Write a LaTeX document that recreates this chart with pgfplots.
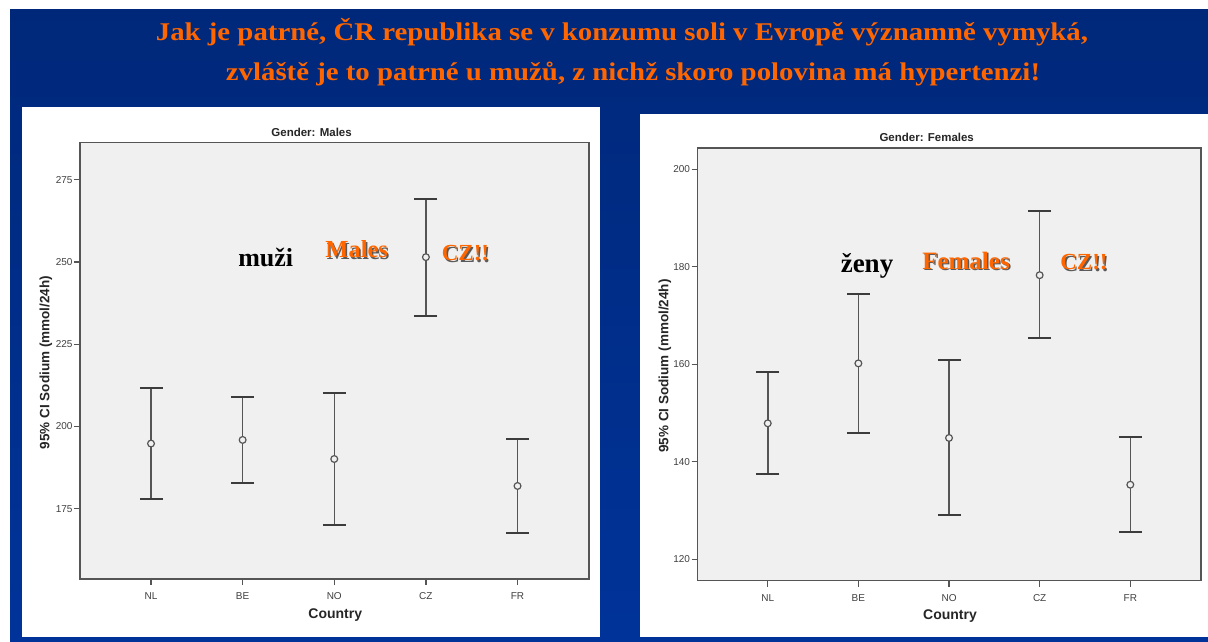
\documentclass[border=0pt]{standalone}
\usepackage{fontspec}
\setmainfont{Liberation Serif}
\newfontfamily\arialfont{Liberation Sans}
\usepackage{pgfplots}
\usepackage{pgfplotstable}
\pgfplotsset{compat=1.18}
\definecolor{bgtop}{RGB}{0,40,122}
\definecolor{bgbot}{RGB}{0,51,153}
\definecolor{plotbg}{RGB}{240,240,240}
\definecolor{axgray}{RGB}{85,85,85}
\definecolor{capgray}{RGB}{60,60,60}
\definecolor{ttorange}{RGB}{255,102,0}
\definecolor{shadowgray}{RGB}{90,90,90}

\pgfplotstableread{
x m up lo
0 194.8 211.7 177.9
1 195.9 209.1 182.9
2 190.1 210.3 169.9
3 251.5 269.2 233.6
4 181.9 196.2 167.7
}\males
\pgfplotstableread{
x m up lo
0 147.9 158.4 137.4
1 160.2 174.5 146.0
2 144.9 160.9 129.1
3 178.3 191.5 165.4
4 135.3 145.1 125.6
}\females

\pgfplotsset{spss/.style={
  scale only axis,
  axis background/.style={fill=plotbg},
  axis line style={axgray, line width=1.4pt},
  xtick={0,1,2,3,4}, xticklabels={NL,BE,NO,CZ,FR},
  tick align=outside, major tick length=6pt,
  tick style={axgray, line width=1.2pt},
  tick pos=left,
  ticklabel style={font=\arialfont\fontsize{10}{12}\selectfont, text=black!75},
  xticklabel style={yshift=-4pt},
  yticklabel style={xshift=2pt},
  /pgf/number format/assume math mode=true,
  xmin=-0.775, xmax=4.78,
}}

\newcommand{\shadowtext}[4]{%
  \node[anchor=base, text=shadowgray, font=\bfseries\fontsize{#3}{#3}\selectfont] at ([xshift=1.5pt,yshift=-1.5pt]#1) {#2};
  \node[anchor=base, text=#4, font=\bfseries\fontsize{#3}{#3}\selectfont] at (#1) {#2};}

\begin{document}
\begin{tikzpicture}[x=1pt,y=1pt]
\useasboundingbox (0,0) rectangle (1208,641);
\fill[white] (0,0) rectangle (1208,641);
\shade[top color=bgtop, bottom color=bgbot] (10,0) rectangle (1208,631);
% panels
\fill[white] (22,4) rectangle (600,533.5);
\fill[white] (640,4) rectangle (1208,527);

% title
\node[anchor=base, xscale=1.13, text=ttorange, font=\bfseries\fontsize{25.5}{28}\selectfont] at (622,600) {Jak je patrné, ČR republika se v konzumu soli v Evropě významně vymyká,};
\node[anchor=base, xscale=1.13, text=ttorange, font=\bfseries\fontsize{25.5}{28}\selectfont] at (633,560.5) {zvláště je to patrné u mužů, z nichž skoro polovina má hypertenzi!};

% Males
\begin{axis}[spss, at={(80pt,62pt)}, anchor=south west, width=509pt, height=436.6pt,
  ymin=153.6, ymax=286.4, ytick={175,200,225,250,275}]
\addplot[only marks, mark=none, error bars/.cd, y dir=both, y explicit, error mark=none,
  error bar style={axgray, line width=1.5pt}]
  table[x=x, y=m, y error plus expr=\thisrow{up}-\thisrow{m}, y error minus expr=\thisrow{m}-\thisrow{lo}] {\males};
\addplot[only marks, mark=-, mark size=11.5pt, mark options={draw=capgray, line width=2pt}] table[x=x, y=up] {\males};
\addplot[only marks, mark=-, mark size=11.5pt, mark options={draw=capgray, line width=2pt}] table[x=x, y=lo] {\males};
\addplot[only marks, mark=*, mark size=3.4pt, mark options={fill=plotbg, draw=axgray, line width=1.2pt}] table[x=x, y=m] {\males};
\end{axis}

% Females
\begin{axis}[spss, at={(697.5pt,60.3pt)}, anchor=south west, width=503.5pt, height=432.7pt,
  ymin=115.6, ymax=204.4, ytick={120,140,160,180,200}]
\addplot[only marks, mark=none, error bars/.cd, y dir=both, y explicit, error mark=none,
  error bar style={axgray, line width=1.5pt}]
  table[x=x, y=m, y error plus expr=\thisrow{up}-\thisrow{m}, y error minus expr=\thisrow{m}-\thisrow{lo}] {\females};
\addplot[only marks, mark=-, mark size=11.5pt, mark options={draw=capgray, line width=2pt}] table[x=x, y=up] {\females};
\addplot[only marks, mark=-, mark size=11.5pt, mark options={draw=capgray, line width=2pt}] table[x=x, y=lo] {\females};
\addplot[only marks, mark=*, mark size=3.4pt, mark options={fill=plotbg, draw=axgray, line width=1.2pt}] table[x=x, y=m] {\females};
\end{axis}

% panel titles and labels
\node[font=\arialfont\bfseries\fontsize{11.5}{13}\selectfont, text=black!85] at (311.6,509) {Gender: Males};
\node[font=\arialfont\bfseries\fontsize{11.5}{13}\selectfont, text=black!85] at (926.7,503.2) {Gender: Females};
\node[rotate=90, font=\arialfont\bfseries\fontsize{13.5}{15}\selectfont, text=black!85] at (46,278.4) {95\% CI Sodium (mmol/24h)};
\node[rotate=90, font=\arialfont\bfseries\fontsize{13.5}{15}\selectfont, text=black!85] at (665,275) {95\% CI Sodium (mmol/24h)};
\node[font=\arialfont\bfseries\fontsize{14}{16}\selectfont, text=black!85] at (335.3,25.5) {Country};
\node[font=\arialfont\bfseries\fontsize{14}{16}\selectfont, text=black!85] at (950,25.4) {Country};

% annotations
\node[anchor=base, text=black, font=\bfseries\fontsize{26}{26}\selectfont] at (265.7,374.3) {muži};
\shadowtext{356.7,383.3}{Males}{24.5}{ttorange}
\shadowtext{465.5,380.3}{CZ!!}{23}{ttorange}
\node[anchor=base, text=black, font=\bfseries\fontsize{27}{27}\selectfont] at (867,368.3) {ženy};
\shadowtext{966,371.7}{Females}{25}{ttorange}
\shadowtext{1084,371.3}{CZ!!}{23}{ttorange}
\end{tikzpicture}
\end{document}
